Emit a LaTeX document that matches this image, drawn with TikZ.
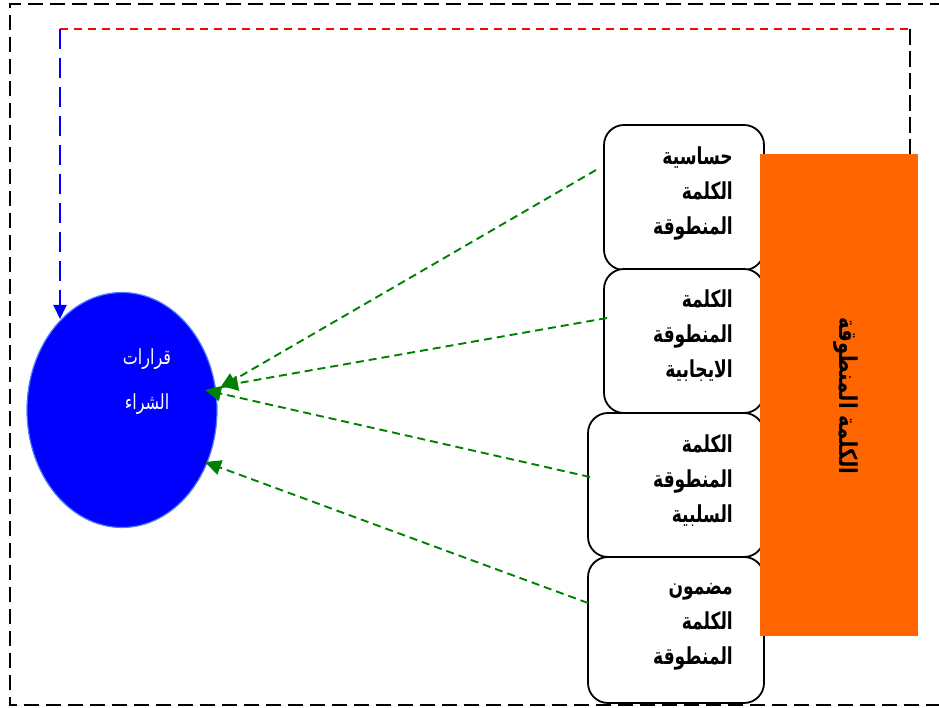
\documentclass[tikz,border=0pt]{standalone}
\usepackage{graphicx}
\usepackage{fontspec}
\setmainfont{DejaVu Sans}
\newfontfamily\arabicfont[Script=Arabic]{DejaVu Sans}
\TeXXeTstate=1
\usetikzlibrary{arrows.meta,shapes.geometric}
\definecolor{myorange}{HTML}{FF6600}
\definecolor{mygreen}{HTML}{008000}
\definecolor{myblue}{HTML}{0000FF}
\definecolor{myred}{HTML}{FF0000}
\definecolor{edgeblue}{HTML}{4D7CFF}
\newcommand\tallline[1]{\scalebox{0.95}[1.3]{\beginR #1\endR}}
\tikzset{
  boxnode/.style={draw=black, line width=1.8pt, rounded corners=20pt, fill=white, inner sep=0pt},
  boxtext/.style={anchor=east, align=right, inner sep=0pt, font=\arabicfont\bfseries\fontsize{18}{35}\selectfont},
  greenarrow/.style={draw=mygreen, line width=1.9pt, dash pattern=on 8pt off 5pt, -{Triangle[length=16pt,width=15pt]}},
  outerline/.style={draw=black, line width=1.4pt, dash pattern=on 15pt off 7pt},
}
\begin{document}
\begin{tikzpicture}[x=1pt,y=-1pt]
\useasboundingbox (0,0) rectangle (939,708);
% outer dashed frame (right side lies beyond the picture)
\coordinate (fr) at (945,4);
\coordinate (ftl) at (10,4);
\coordinate (fbl) at (10,705);
\coordinate (fbr) at (945,705);
\draw[outerline] (fr) -- (ftl) -- (fbl) -- (fbr);
% boxes
\node[boxnode, minimum width=160pt, minimum height=145pt] (b1) at (684,197.5) {};
\node[boxnode, minimum width=160pt, minimum height=144pt] (b2) at (684,341) {};
\node[boxnode, minimum width=176pt, minimum height=144pt] (b3) at (676,485) {};
\node[boxnode, minimum width=176pt, minimum height=146pt] (b4) at (676,630) {};
\node[boxtext] (t1) at (733,193) {\tallline{حساسية}\\\tallline{الكلمة}\\\tallline{المنطوقة}};
\node[boxtext] (t2) at (733,336) {\tallline{الكلمة}\\\tallline{المنطوقة}\\\tallline{الايجابية}};
\node[boxtext] (t3) at (733,481) {\tallline{الكلمة}\\\tallline{المنطوقة}\\\tallline{السلبية}};
\node[boxtext] (t4) at (733,627) {\tallline{مضمون}\\\tallline{الكلمة}\\\tallline{المنطوقة}};
% orange bar
\node[fill=myorange, minimum width=158pt, minimum height=482pt, inner sep=0pt] (bar) at (839,395) {};
\node[rotate=-90, inner sep=0pt, font=\arabicfont\bfseries\fontsize{19}{22}\selectfont] (bartext) at (846,396) {\scalebox{1.03}[1.3]{\beginR الكلمة المنطوقة\endR}};
% ellipse
\node[draw=edgeblue, line width=1.2pt, fill=myblue, ellipse, minimum width=190pt, minimum height=235pt, inner sep=0pt] (ell) at (122,410) {};
\node[align=center, text=white, inner sep=0pt, font=\arabicfont\fontsize{16}{45}\selectfont] (etext) at (147,382) {\scalebox{1}[1.3]{\beginR قرارات\endR}\\\scalebox{1}[1.3]{\beginR الشراء\endR}};
% feedback loop
\coordinate (ltop) at (60,29);
\coordinate (rtop) at (910,29);
\coordinate (btip) at (60,319);
\draw[draw=myred, line width=1.3pt, dash pattern=on 8pt off 6pt] (ltop) -- (rtop);
\draw[draw=black, line width=1.4pt, dash pattern=on 16pt off 6pt] (rtop) -- (rtop |- bar.north);
\draw[draw=myblue, line width=2pt, dash pattern=on 20pt off 9pt, -{Triangle[length=14pt,width=13pt]}] (ltop) -- (btip);
% green arrows
\coordinate (s1) at (596,170);
\coordinate (s2) at (607,318);
\coordinate (s3) at (590,477);
\coordinate (s4) at (588,603);
\coordinate (e1) at (220,388);
\coordinate (e2) at (222,386);
\coordinate (e3) at (205,390);
\coordinate (e4) at (205,462);
\draw[greenarrow] (s1) -- (e1);
\draw[greenarrow] (s2) -- (e2);
\draw[greenarrow] (s3) -- (e3);
\draw[greenarrow] (s4) -- (e4);
\end{tikzpicture}
\end{document}
